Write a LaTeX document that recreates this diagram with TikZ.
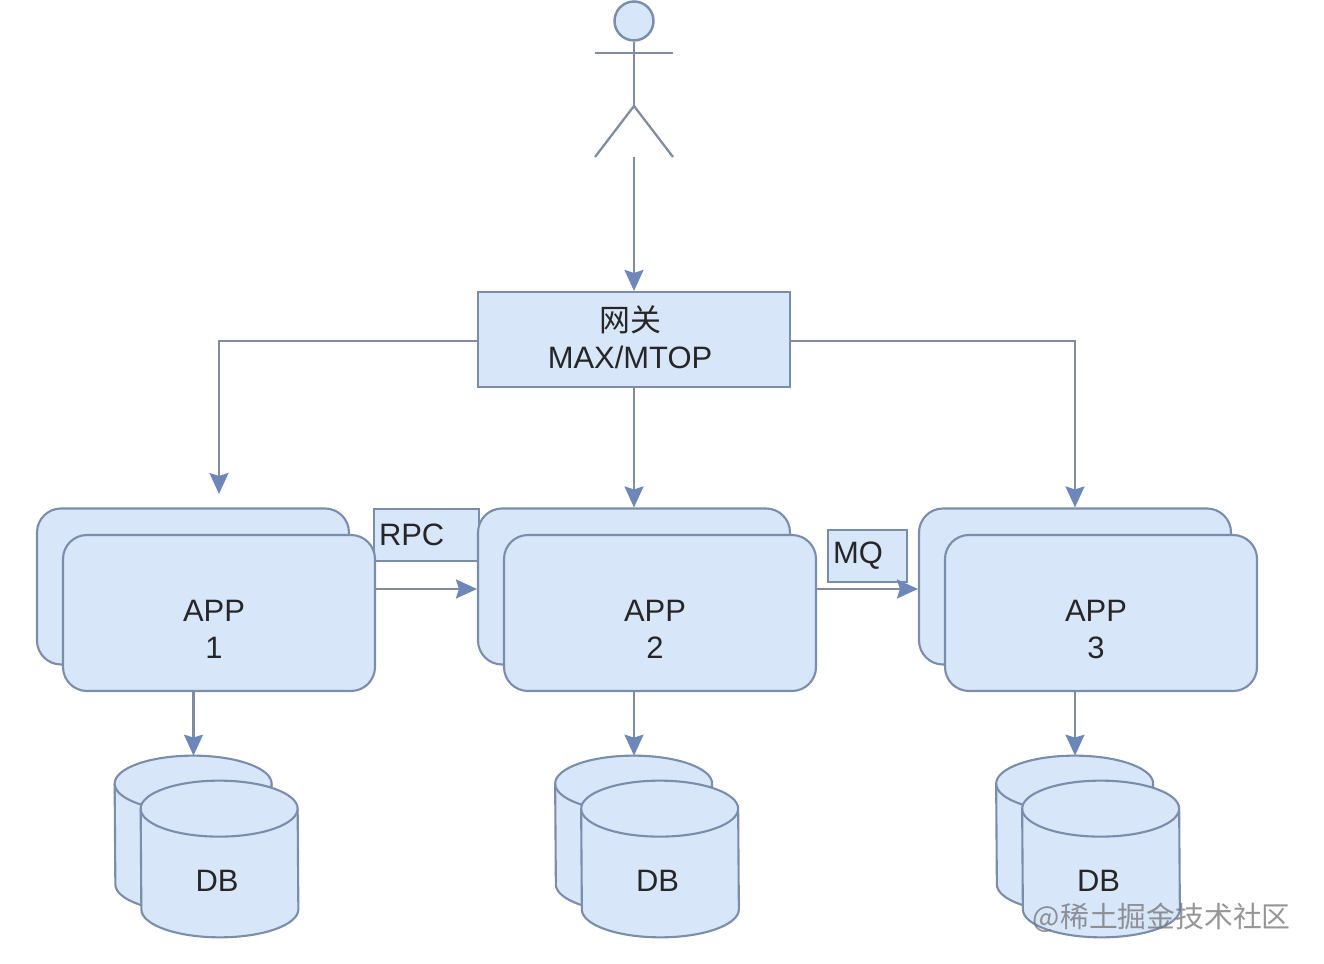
\documentclass[tikz,border=0pt]{standalone}
\usepackage{fontspec}
\setmainfont{Liberation Sans}
\newfontfamily\cjk{Noto Sans CJK SC}
\usetikzlibrary{arrows.meta}
\definecolor{boxfill}{RGB}{216,230,250}
\definecolor{boxline}{RGB}{122,142,172}
\definecolor{wireline}{RGB}{128,140,160}
\definecolor{tipfill}{RGB}{110,135,185}
\tikzset{
	appbox/.style={draw=boxline, fill=boxfill, line width=1.2pt, rounded corners=0.48cm, minimum width=6.24cm, minimum height=3.12cm},
	plainbox/.style={draw=boxline, fill=boxfill, line width=1.2pt, inner sep=0pt},
	boxtext/.style={text=black!85, font=\fontsize{17.6pt}{21pt}\selectfont, align=center},
	tagbox/.style={plainbox, boxtext, inner xsep=0.1cm, align=left, minimum height=1.04cm},
	drumframe/.style={minimum width=3.14cm, minimum height=3.12cm, inner sep=0pt},
	drumline/.style={draw=boxline, fill=boxfill, line width=1.2pt},
	wire/.style={draw=wireline, line width=1.3pt},
	arr/.style={wire, -{Stealth[length=0.42cm, width=0.38cm, inset=0.06cm, fill=tipfill, color=tipfill]}}
}
% a drum: name, centre
\newcommand{\dbdrum}[2]{
	\node[drumframe] (#1) at (#2) {};
	\draw[drumline] ([yshift=-0.56cm]#1.north west) arc[start angle=180, end angle=0, x radius=1.57, y radius=0.56]
		-- ([yshift=0.56cm]#1.south east) arc[start angle=360, end angle=180, x radius=1.57, y radius=0.56] -- cycle;
	\draw[drumline, fill=none] ([yshift=-0.56cm]#1.north west) arc[start angle=180, end angle=360, x radius=1.57, y radius=0.56];
}
\begin{document}
\begin{tikzpicture}
	\useasboundingbox (0,0) rectangle (26.48,19.26);
	% person at the top
	\node[circle, draw=boxline, fill=boxfill, line width=1.4pt, minimum size=0.78cm, inner sep=0pt] (head) at (12.68,18.84) {};
	\coordinate (hip) at (12.68,17.14);
	\coordinate (footl) at (11.9,16.12);
	\coordinate (footr) at (13.46,16.12);
	\coordinate (arml) at (11.9,18.2);
	\coordinate (armr) at (13.46,18.2);
	\coordinate (start) at (12.68,16.12);
	\draw[wire] (head) -- (hip);
	\draw[wire] (arml) -- (armr);
	\draw[wire] (footl) -- (hip) -- (footr);
	% gateway
	\node[plainbox, minimum width=6.24cm, minimum height=1.9cm] (gateway) at (12.68,12.47) {};
	\node[boxtext] (gatewaytext) at (12.6,12.52) {{\cjk 网关}\\MAX/MTOP};
	% app stacks
	\node[tagbox, text width=1.9cm] (rpc) at (8.53,8.56) {RPC};
	\node[tagbox, text width=1.38cm] (mq) at (17.35,8.14) {MQ};
	\node[appbox] (back1) at (3.86,7.53) {};
	\node[appbox] (app1) at (4.38,7) {};
	\node[appbox] (back2) at (12.68,7.53) {};
	\node[appbox] (app2) at (13.2,7) {};
	\node[appbox] (back3) at (21.5,7.53) {};
	\node[appbox] (app3) at (22.02,7) {};
	\node[boxtext] (apptext1) at (4.28,6.67) {APP\\1};
	\node[boxtext] (apptext2) at (13.1,6.67) {APP\\2};
	\node[boxtext] (apptext3) at (21.92,6.67) {APP\\3};
	% databases
	\foreach \i/\x in {1/3.87,2/12.68,3/21.5} {
		\dbdrum{dbback\i}{\x,2.58}
		\dbdrum{db\i}{\x+0.52,2.08}
		\node[boxtext] (dbtext\i) at (\x+0.47,1.64) {DB};
		\draw[arr] (dbback\i.north |- app\i.south) -- (dbback\i.north);
	}
	% wires between the blocks
	\coordinate (drop1) at (4.38,9.38);
	\draw[arr] (start) -- (gateway.north);
	\draw[arr] ([yshift=-0.03cm]gateway.west) -| (drop1);
	\draw[arr] (gateway.south) -- (back2.north);
	\draw[arr] ([yshift=-0.03cm]gateway.east) -| (back3.north);
	\draw[arr] ([yshift=0.48cm]app1.east) -- ([yshift=-0.05cm]back2.west);
	\draw[arr] ([yshift=0.48cm]app2.east) -- ([yshift=-0.05cm]back3.west);
	\node[text=black!55, opacity=0.75, font=\cjk\fontsize{16.4pt}{18pt}\selectfont, anchor=east] (mark) at (25.94,0.9) {@稀土掘金技术社区};
\end{tikzpicture}
\end{document}
